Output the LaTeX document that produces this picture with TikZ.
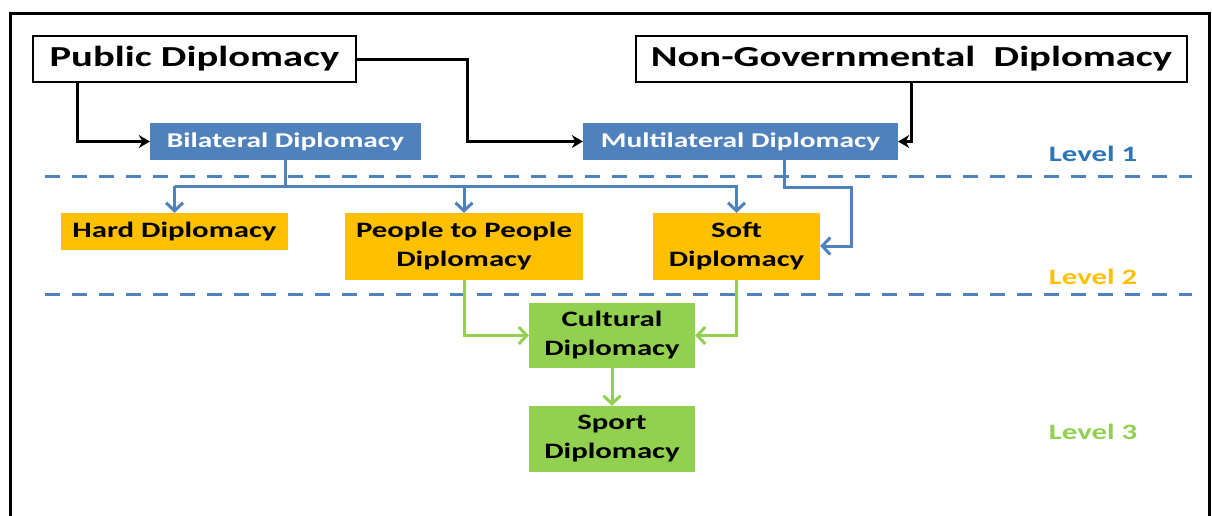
\documentclass[tikz,border=0pt]{standalone}
\usepackage{fontspec}
\setmainfont{Carlito}
\newfontfamily\wide{Carlito}[FakeStretch=1.4]
\usetikzlibrary{arrows.meta}
\definecolor{dblue}{HTML}{4F81BD}
\definecolor{lblue}{HTML}{2E75B6}
\definecolor{dorange}{HTML}{FFC000}
\definecolor{dgreen}{HTML}{92D050}
\tikzset{
  box/.style={rectangle, inner sep=0pt, align=center},
  topbox/.style={box, draw=black, line width=1.2pt, fill=white, font=\wide\fontsize{29}{33}\selectfont\bfseries},
  bluebox/.style={box, fill=dblue, text=white, font=\wide\fontsize{21}{24}\selectfont\bfseries},
  orbox/.style={box, fill=dorange, text=black, font=\wide\fontsize{22}{29}\selectfont\bfseries},
  grbox/.style={box, fill=dgreen, text=black, font=\wide\fontsize{22}{29}\selectfont\bfseries},
  blackarr/.style={draw=black, line width=3pt, -{Stealth[length=11pt,width=13pt]}},
  bluearr/.style={draw=dblue, line width=3pt, -{Straight Barb[length=8pt,width=17pt,line width=3pt]}},
  greenarr/.style={draw=dgreen, line width=3pt, -{Straight Barb[length=8pt,width=17pt,line width=3pt]}},
  sep/.style={draw=dblue, line width=3pt, dash pattern=on 15pt off 12pt},
  lvl/.style={font=\wide\fontsize{22}{26}\selectfont\bfseries}
}
\begin{document}
\begin{tikzpicture}[x=1pt,y=-1pt]
\useasboundingbox (0,0) rectangle (1212,515);
\fill[white] (0,0) rectangle (1212,515);
% frame
\draw[black, line width=3pt] (10,516) -- (10,13) -- (1209,13) -- (1209,516);
% dashed separators
\draw[sep] (45,176) -- (1192,176);
\draw[sep] (45,294) -- (1192,294);
% nodes
\node[topbox, minimum width=323pt, minimum height=46pt] (pub) at (194.5,59) {Public Diplomacy};
\node[topbox, minimum width=551pt, minimum height=46pt] (ngo) at (911.5,59) {Non-Governmental\ \ Diplomacy};
\node[bluebox, minimum width=271pt, minimum height=37pt] (bil) at (285.5,141.5) {Bilateral Diplomacy};
\node[bluebox, minimum width=315pt, minimum height=37pt] (mul) at (740.5,141.5) {Multilateral Diplomacy};
\node[orbox, minimum width=227pt, minimum height=37pt] (hard) at (174.5,231.5) {Hard Diplomacy};
\node[orbox, minimum width=238pt, minimum height=67pt] (ppl) at (464,246.5) {People to People\\Diplomacy};
\node[orbox, minimum width=167pt, minimum height=67pt] (soft) at (736.5,246.5) {Soft\\Diplomacy};
\node[grbox, minimum width=166pt, minimum height=65pt] (cult) at (612,335.5) {Cultural\\Diplomacy};
\node[grbox, minimum width=166pt, minimum height=66pt] (sport) at (612,439) {Sport\\Diplomacy};
\node[lvl, text=lblue] (l1) at (1093,154) {Level 1};
\node[lvl, text=dorange] (l2) at (1093,277) {Level 2};
\node[lvl, text=dgreen] (l3) at (1093,432) {Level 3};
% coordinates
\coordinate (pubdown) at (77,82);
\coordinate (ngodown) at (911,82);
\coordinate (muldown) at (784,160);
% black connectors
\draw[blackarr] (pubdown) |- (bil.west);
\draw[blackarr] (pub.east) -| (467,141.5) -- (mul.west);
\draw[blackarr] (ngodown) |- (mul.east);
% blue connectors
\draw[draw=dblue, line width=3pt] (bil.south) -- (bil.south |- 0,186);
\draw[bluearr] (hard.north |- 0,186) -- (hard.north);
\draw[bluearr] (ppl.north |- 0,186) -- (ppl.north);
\draw[bluearr] (hard.north |- 0,186) -- (soft.north |- 0,186) -- (soft.north);
\draw[bluearr] (muldown) -- (784,187) -- (851,187) |- (soft.east |- 0,246);
% green connectors
\draw[greenarr] (ppl.south) |- (cult.west);
\draw[greenarr] (soft.south) |- (cult.east);
\draw[greenarr] (cult.south) -- (sport.north);
\end{tikzpicture}
\end{document}
